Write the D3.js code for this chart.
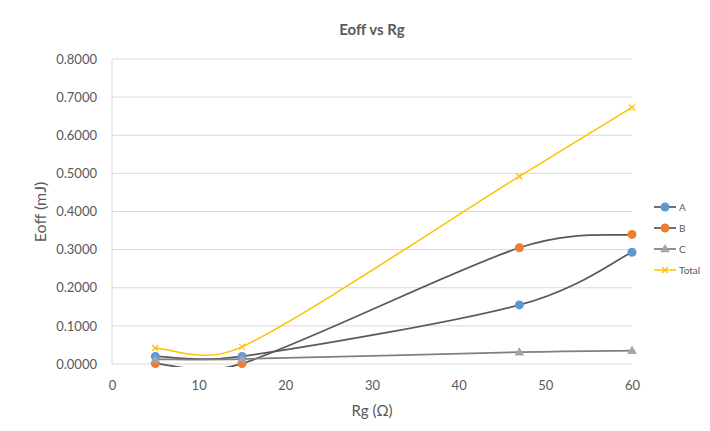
<!DOCTYPE html>
<html>
<head>
<meta charset="utf-8">
<script src="https://cdn.jsdelivr.net/npm/d3@7"></script>
<style>
  html, body { margin: 0; padding: 0; background: #fff; }
  svg { display: block; }
  text { font-family: Lato, "Open Sans", sans-serif; fill: #595959; }
</style>
</head>
<body>
<svg id="chart" width="710" height="431"></svg>
<script>
// Gate resistance values (Ω) and turn-off energy per device (mJ)
const rg = [5, 15, 47, 60];
const seriesA = [0.020, 0.020, 0.155, 0.293];
const seriesB = [0.001, 0.001, 0.305, 0.340];
const seriesC = [0.012, 0.013, 0.031, 0.035];
const seriesTotal = [0.042, 0.045, 0.492, 0.673];
const seriesNames = ["A", "B", "C", "Total"];
const xTicks = [0, 10, 20, 30, 40, 50, 60];
const yTicks = [0, 0.1, 0.2, 0.3, 0.4, 0.5, 0.6, 0.7, 0.8];

const series = [
  { name: seriesNames[0], values: seriesA, line: "#595959", color: "#5b9bd5", marker: "circle" },
  { name: seriesNames[1], values: seriesB, line: "#595959", color: "#ed7d31", marker: "circle" },
  { name: seriesNames[2], values: seriesC, line: "#7f7f7f", color: "#a5a5a5", marker: "triangle" },
  { name: seriesNames[3], values: seriesTotal, line: "#ffc000", color: "#ffc000", marker: "x" }
];

const svg = d3.select("#chart");
const plot = { left: 112, right: 632, top: 59, bottom: 364 };

const x = d3.scaleLinear().domain([0, 60]).range([plot.left, plot.right]);
const y = d3.scaleLinear().domain([0, 0.8]).range([plot.bottom, plot.top]);

// Spreadsheet-style smoothing: Bézier segments with 1/6 tangents,
// each control arm limited to half of its segment's length.
function curveSmoothClamped(context) {
  let pts = [];
  return {
    areaStart() {}, areaEnd() {},
    lineStart() { pts = []; },
    point(px, py) { pts.push([+px, +py]); },
    lineEnd() {
      const n = pts.length;
      if (!n) return;
      context.moveTo(pts[0][0], pts[0][1]);
      for (let i = 0; i < n - 1; i++) {
        const p0 = pts[Math.max(i - 1, 0)], p1 = pts[i], p2 = pts[i + 1], p3 = pts[Math.min(i + 2, n - 1)];
        const seg = Math.hypot(p2[0] - p1[0], p2[1] - p1[1]);
        const arm = (a, b) => {
          let dx = (b[0] - a[0]) / 6, dy = (b[1] - a[1]) / 6;
          const len = Math.hypot(dx, dy);
          if (len > seg / 2 && len > 0) { const s = (seg / 2) / len; dx *= s; dy *= s; }
          return [dx, dy];
        };
        const a1 = arm(p0, p2), a2 = arm(p1, p3);
        context.bezierCurveTo(p1[0] + a1[0], p1[1] + a1[1], p2[0] - a2[0], p2[1] - a2[1], p2[0], p2[1]);
      }
    }
  };
}

// Lines are clipped to the plot area (markers are not)
svg.append("defs").append("clipPath").attr("id", "plot-clip")
  .append("rect")
  .attr("x", plot.left).attr("y", plot.top - 4)
  .attr("width", plot.right - plot.left + 6).attr("height", plot.bottom - plot.top + 7);

// Horizontal gridlines
svg.append("g")
  .selectAll("line")
  .data(yTicks)
  .join("line")
  .attr("x1", plot.left).attr("x2", plot.right)
  .attr("y1", d => y(d)).attr("y2", d => y(d))
  .attr("stroke", "#d9d9d9").attr("stroke-width", 1);

// Vertical axis line
svg.append("line")
  .attr("x1", plot.left).attr("x2", plot.left)
  .attr("y1", plot.top).attr("y2", plot.bottom)
  .attr("stroke", "#d9d9d9");

// Y axis tick labels
const yAxis = d3.axisLeft(y).tickValues(yTicks).tickFormat(d3.format(".4f")).tickSize(0).tickPadding(15);
const gy = svg.append("g").attr("transform", `translate(${plot.left},0)`).call(yAxis);
gy.select(".domain").remove();
gy.selectAll("text").style("font-size", "13px").attr("fill", "#595959").style("font-family", "Lato, sans-serif");

// X axis tick labels
const xAxis = d3.axisBottom(x).tickValues(xTicks).tickFormat(d3.format("d")).tickSize(0).tickPadding(17);
const gx = svg.append("g").attr("transform", `translate(0,${plot.bottom})`).call(xAxis);
gx.select(".domain").remove();
gx.selectAll("text").style("font-size", "13px").attr("fill", "#595959").style("font-family", "Lato, sans-serif");

// Smoothed series lines
const line = d3.line()
  .x((d, i) => x(rg[i]))
  .y(d => y(d))
  .curve(curveSmoothClamped);

svg.append("g")
  .attr("clip-path", "url(#plot-clip)")
  .selectAll("path")
  .data(series)
  .join("path")
  .attr("d", s => line(s.values))
  .attr("fill", "none")
  .attr("stroke", s => s.line)
  .attr("stroke-width", s => s.marker === "x" ? 1.5 : 1.75);

function drawMarker(g, type, color) {
  if (type === "circle") {
    g.append("circle").attr("r", 4.5).attr("fill", color);
  } else if (type === "triangle") {
    g.append("path").attr("d", d3.symbol(d3.symbolTriangle, 40)()).attr("fill", color).attr("transform", "translate(0,0.5)");
  } else {
    g.append("path").attr("d", "M-3,-3L3,3M-3,3L3,-3").attr("stroke", color).attr("stroke-width", 1.3).attr("fill", "none");
  }
}

// Point markers
series.forEach(s => {
  s.values.forEach((v, i) => {
    const g = svg.append("g").attr("transform", `translate(${x(rg[i])},${y(v)})`);
    drawMarker(g, s.marker, s.color);
  });
});

// Legend
const legend = svg.append("g").attr("transform", "translate(654,207)");
series.forEach((s, i) => {
  const g = legend.append("g").attr("transform", `translate(0,${i * 21})`);
  g.append("line").attr("x1", 0).attr("x2", 22).attr("y1", 0).attr("y2", 0)
    .attr("stroke", s.line).attr("stroke-width", s.marker === "x" ? 1.5 : 1.75);
  const m = g.append("g").attr("transform", "translate(11,0)");
  drawMarker(m, s.marker, s.color);
  g.append("text").attr("x", 25).attr("y", 0).attr("dy", "0.35em")
    .style("font-size", "10px").text(s.name);
});

// Title and axis titles
svg.append("text").attr("x", 372).attr("y", 35).attr("text-anchor", "middle")
  .style("font-size", "15px").style("font-weight", "bold").text("Eoff vs Rg");
svg.append("text").attr("x", 372).attr("y", 416).attr("text-anchor", "middle")
  .style("font-size", "15px").text("Rg (Ω)");
svg.append("text").attr("transform", "translate(46,212) rotate(-90)").attr("text-anchor", "middle")
  .style("font-size", "16px").text("Eoff (mJ)");
</script>
</body>
</html>
